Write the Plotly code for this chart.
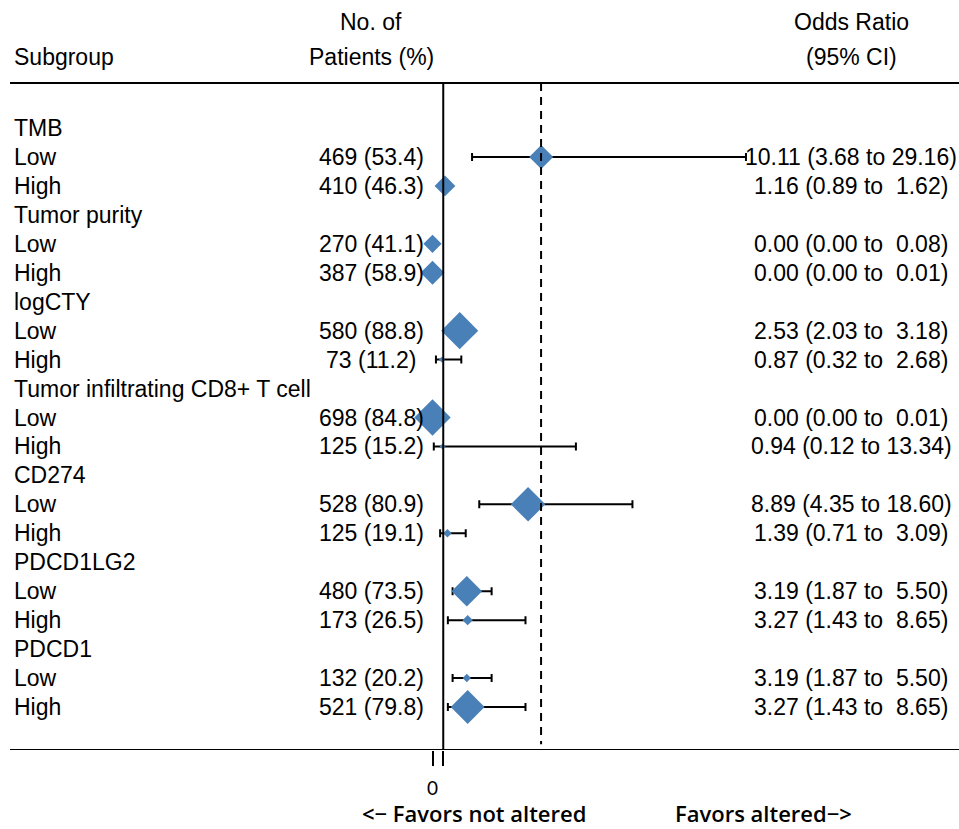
import plotly.graph_objects as go

# ---------------- data ----------------
row_labels = ["TMB", "Low", "High",
              "Tumor purity", "Low", "High",
              "logCTY", "Low", "High",
              "Tumor infiltrating CD8+ T cell", "Low", "High",
              "CD274", "Low", "High",
              "PDCD1LG2", "Low", "High",
              "PDCD1", "Low", "High"]
patients = ["", "469 (53.4)", "410 (46.3)",
            "", "270 (41.1)", "387 (58.9)",
            "", "580 (88.8)", "73 (11.2)",
            "", "698 (84.8)", "125 (15.2)",
            "", "528 (80.9)", "125 (19.1)",
            "", "480 (73.5)", "173 (26.5)",
            "", "132 (20.2)", "521 (79.8)"]
or_text = ["", "10.11 (3.68 to 29.16)", "1.16 (0.89 to  1.62)",
           "", "0.00 (0.00 to  0.08)", "0.00 (0.00 to  0.01)",
           "", "2.53 (2.03 to  3.18)", "0.87 (0.32 to  2.68)",
           "", "0.00 (0.00 to  0.01)", "0.94 (0.12 to 13.34)",
           "", "8.89 (4.35 to 18.60)", "1.39 (0.71 to  3.09)",
           "", "3.19 (1.87 to  5.50)", "3.27 (1.43 to  8.65)",
           "", "3.19 (1.87 to  5.50)", "3.27 (1.43 to  8.65)"]
or_val = [None, 10.11, 1.16, None, 0.00, 0.00, None, 2.53, 0.87,
          None, 0.00, 0.94, None, 8.89, 1.39, None, 3.19, 3.27, None, 3.19, 3.27]
ci_low = [None, 3.68, 0.89, None, 0.00, 0.00, None, 2.03, 0.32,
          None, 0.00, 0.12, None, 4.35, 0.71, None, 1.87, 1.43, None, 1.87, 1.43]
ci_high = [None, 29.16, 1.62, None, 0.08, 0.01, None, 3.18, 2.68,
           None, 0.01, 13.34, None, 18.60, 3.09, None, 5.50, 8.65, None, 5.50, 8.65]
# box weights (diamond size)
weight = [None, 18.5, 16, None, 14, 18.5, None, 28.5, 4.5,
          None, 28, 4.5, None, 26.5, 6.5, None, 23.5, 8, None, 6.5, 26]
overall_or = 10.1
null_or = 1
tick_vals = [0, 1]
tick_text = ["0", ""]

# ---------------- figure ----------------
W, H = 959, 829
y_top_px, y_bot_px = 83, 750
row0_px, row_step = 128, 28.95
x0_px, x_scale = 432.5, 10.75
PH = y_bot_px  # plot area height in px (top margin 0)

n = len(row_labels)
idx = list(range(n))
pts = [i for i in idx if or_val[i] is not None]

fig = go.Figure()
fig.add_trace(go.Scatter(
    x=[or_val[i] for i in pts],
    y=[i for i in pts],
    mode="markers",
    marker=dict(symbol="diamond", size=[weight[i] for i in pts],
                color="#4A80B8", opacity=1, line=dict(width=0)),
    error_x=dict(type="data", symmetric=False,
                 array=[ci_high[i] - or_val[i] for i in pts],
                 arrayminus=[or_val[i] - ci_low[i] for i in pts],
                 color="black", thickness=2, width=4),
    showlegend=False, hoverinfo="skip",
))

ymin = -(row0_px) / row_step
ymax = (y_bot_px - row0_px) / row_step
xmin = -x0_px / x_scale
xmax = (W - x0_px) / x_scale

FONT = "Liberation Sans, Arial, sans-serif"
FS = 23

fig.update_layout(
    width=W, height=H,
    margin=dict(l=0, r=0, t=0, b=H - y_bot_px, pad=0),
    paper_bgcolor="white", plot_bgcolor="white",
    font=dict(family=FONT, size=FS, color="black"),
    xaxis=dict(range=[xmin, xmax], showgrid=False, zeroline=False, showline=False,
               tickvals=tick_vals, ticktext=tick_text, ticks="outside",
               ticklen=15, tickwidth=2, tickcolor="black",
               tickfont=dict(family="Lato, sans-serif", size=19, color="black"),
               ticklabelstandoff=6, fixedrange=True),
    yaxis=dict(range=[ymax, ymin], showgrid=False, zeroline=False, showline=False,
               showticklabels=False, ticks="", fixedrange=True),
)

def py(px):  # paper y (relative to plot area) from pixel
    return 1 - px / PH

def pxx(px):
    return px / W

top_y_data = (y_top_px - row0_px) / row_step
bot_y_data = ymax
for yd in (top_y_data, bot_y_data):
    fig.add_shape(type="line", xref="paper", yref="y",
                  x0=pxx(10), x1=1, y0=yd, y1=yd,
                  line=dict(color="black", width=2))
fig.add_shape(type="line", xref="x", yref="y", x0=null_or, x1=null_or,
              y0=top_y_data, y1=bot_y_data, line=dict(color="black", width=2))
fig.add_shape(type="line", xref="x", yref="y", x0=overall_or, x1=overall_or,
              y0=top_y_data, y1=bot_y_data - 0.2,
              line=dict(color="black", width=2, dash="8px,6px"))

hdr = dict(xref="paper", yref="paper", showarrow=False,
           font=dict(family=FONT, size=FS, color="black"))
fig.add_annotation(text="Subgroup", x=pxx(12), y=py(57), xanchor="left", yanchor="middle", **hdr)
fig.add_annotation(text="No. of", x=pxx(371), y=py(22), xanchor="center", yanchor="middle", **hdr)
fig.add_annotation(text="Patients (%)", x=pxx(371), y=py(57), xanchor="center", yanchor="middle", **hdr)
fig.add_annotation(text="Odds Ratio", x=pxx(851), y=py(22), xanchor="center", yanchor="middle", **hdr)
fig.add_annotation(text="(95% CI)", x=pxx(851), y=py(57), xanchor="center", yanchor="middle", **hdr)

for i in idx:
    fig.add_annotation(text=row_labels[i], x=pxx(12), y=i, xref="paper", yref="y",
                       xanchor="left", yanchor="middle", showarrow=False)
    if patients[i]:
        fig.add_annotation(text=patients[i], x=pxx(371), y=i, xref="paper", yref="y",
                           xanchor="center", yanchor="middle", showarrow=False)
    if or_text[i]:
        fig.add_annotation(text=or_text[i].replace("  ", "&nbsp; "), x=pxx(851), y=i,
                           xref="paper", yref="y",
                           xanchor="center", yanchor="middle", showarrow=False)

fav = dict(xref="paper", yref="paper", showarrow=False, yanchor="bottom",
           borderpad=0,
           font=dict(family="Open Sans, sans-serif", size=22, color="black", weight=600))
fig.add_annotation(text="&lt;\u2212 Favors not altered", x=pxx(474), y=py(829), xanchor="center", **fav)
fig.add_annotation(text="Favors altered\u2212&gt;", x=pxx(763), y=py(829), xanchor="center", **fav)

fig.write_html("out.html", config={"displayModeBar": False},
               post_script="document.body.style.margin='0px';document.body.style.padding='0px';")
